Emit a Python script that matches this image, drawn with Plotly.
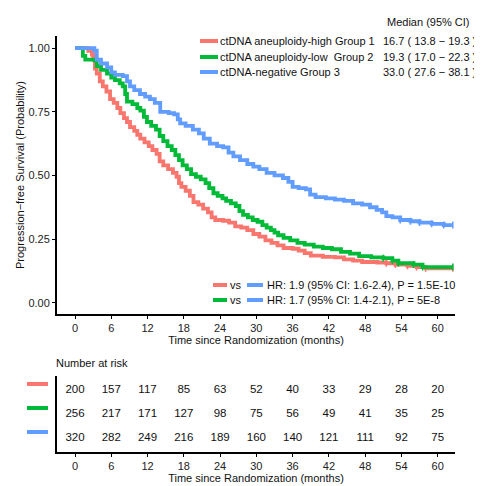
import plotly.graph_objects as go

# ---------------- data ----------------
t_high = [0, 2.2, 2.8, 3.0, 3.3, 3.6, 4.1, 4.6, 5.2, 5.8, 6.4, 7.0, 7.5, 8.1, 8.6, 9.1, 9.8, 10.3, 10.8, 11.5,
          12.2, 12.8, 13.5, 14.0, 14.6, 15.4, 16.2, 16.8, 17.2, 17.6, 18.3, 19.0, 19.6, 20.4, 21.2, 22.0, 22.6,
          23.2, 24.5, 25.5, 26.5, 27.5, 28.5, 29.5, 30.5, 31.5, 32.5, 33.5, 34.5, 36.0, 37.0, 38.0, 39.0, 41.0,
          43.0, 44.5, 46.0, 47.5, 50.0, 51.5, 53.0, 55.0, 56.5, 58.0, 62.5]
s_high = [1.0, 0.99, 0.975, 0.96, 0.92, 0.90, 0.87, 0.85, 0.83, 0.80, 0.785, 0.765, 0.745, 0.725, 0.71, 0.69, 0.675,
          0.66, 0.645, 0.63, 0.615, 0.60, 0.585, 0.555, 0.54, 0.525, 0.51, 0.495, 0.47, 0.455, 0.44, 0.42, 0.395,
          0.385, 0.37, 0.355, 0.335, 0.325, 0.322, 0.315, 0.30, 0.295, 0.285, 0.27, 0.26, 0.245, 0.235, 0.225, 0.215,
          0.212, 0.205, 0.195, 0.185, 0.18, 0.178, 0.17, 0.165, 0.16, 0.158, 0.155, 0.15, 0.145, 0.14, 0.135, 0.135]

t_low = [0, 1.3, 1.7, 3.2, 3.6, 4.3, 5.3, 6.0, 6.6, 7.4, 7.9, 8.3, 8.6, 9.5, 10.3, 10.8, 11.4, 11.9, 12.6, 13.4,
         14.0, 14.6, 15.3, 16.0, 16.6, 17.2, 17.8, 18.5, 19.2, 20.0, 20.8, 21.6, 22.2, 22.9, 23.6, 24.4, 25.0, 25.8,
         26.6, 27.2, 27.8, 28.6, 29.4, 30.2, 31.0, 31.7, 32.4, 33.0, 33.6, 34.5, 35.6, 36.8, 38.0, 39.5, 41.0, 42.5,
         44.0, 45.5, 47.0, 49.0, 51.0, 52.5, 53.5, 56.0, 57.5, 62.5]
s_low = [1.0, 0.97, 0.955, 0.952, 0.93, 0.915, 0.90, 0.885, 0.875, 0.862, 0.85, 0.82, 0.79, 0.78, 0.765, 0.755, 0.73,
         0.71, 0.695, 0.68, 0.655, 0.635, 0.615, 0.60, 0.58, 0.56, 0.54, 0.525, 0.505, 0.495, 0.485, 0.47, 0.45, 0.43,
         0.42, 0.41, 0.40, 0.39, 0.38, 0.36, 0.345, 0.335, 0.325, 0.318, 0.305, 0.295, 0.285, 0.275, 0.265, 0.255,
         0.245, 0.235, 0.228, 0.22, 0.215, 0.21, 0.20, 0.193, 0.183, 0.178, 0.175, 0.165, 0.155, 0.15, 0.14, 0.14]

t_neg = [0, 3.2, 3.6, 4.3, 5.3, 6.0, 6.6, 7.9, 8.6, 9.1, 9.8, 10.75, 11.6, 12.4, 13.2, 14.1, 15.5, 16.4, 17.0, 17.4,
         18.3, 19.5, 20.5, 21.3, 22.3, 23.5, 24.5, 25.4, 26.2, 27.3, 28.5, 29.5, 30.5, 31.7, 33.0, 34.4, 35.3, 36.0,
         37.0, 38.2, 38.9, 39.8, 41.5, 43.0, 44.5, 46.0, 47.5, 48.8, 49.9, 50.8, 51.5, 52.5, 53.8, 55.5, 57.0, 59.0,
         61.0, 62.5]
s_neg = [1.0, 0.99, 0.955, 0.94, 0.925, 0.905, 0.895, 0.89, 0.87, 0.85, 0.835, 0.82, 0.81, 0.80, 0.785, 0.75, 0.745,
         0.74, 0.72, 0.705, 0.695, 0.68, 0.665, 0.645, 0.625, 0.615, 0.61, 0.59, 0.575, 0.56, 0.545, 0.535, 0.525,
         0.51, 0.50, 0.49, 0.475, 0.455, 0.45, 0.445, 0.425, 0.415, 0.41, 0.405, 0.40, 0.39, 0.385, 0.375, 0.365,
         0.355, 0.34, 0.335, 0.325, 0.32, 0.315, 0.31, 0.305, 0.305]

group_names = ["ctDNA aneuploidy-high Group 1", "ctDNA aneuploidy-low  Group 2", "ctDNA-negative Group 3"]
group_medians = ["16.7 ( 13.8 \u2212 19.3 )", "19.3 ( 17.0 \u2212 22.3 )", "33.0 ( 27.6 \u2212 38.1 )"]
colors = ["#F8766D", "#00BA38", "#619CFF"]

risk_times = [0, 6, 12, 18, 24, 30, 36, 42, 48, 54, 60]
risk_high = [200, 157, 117, 85, 63, 52, 40, 33, 29, 28, 20]
risk_low = [256, 217, 171, 127, 98, 75, 56, 49, 41, 35, 25]
risk_neg = [320, 282, 249, 216, 189, 160, 140, 121, 111, 92, 75]

hr_texts = ["HR: 1.9 (95% CI: 1.6-2.4), P = 1.5E-10", "HR: 1.7 (95% CI: 1.4-2.1), P = 5E-8"]

y_ticks = [0.0, 0.25, 0.5, 0.75, 1.0]
y_ticklabels = ["0.00", "0.25", "0.50", "0.75", "1.00"]

# ---------------- figure ----------------
FONT = "Liberation Sans, Arial, sans-serif"
OFF = 8  # page body margin
W, H = 482 - OFF, 486 - OFF
ML, MR, MT, MB = 57 - OFF, 27, 36 - OFF, 34
PW, PH = W - ML - MR, H - MT - MB


def px_x(px):
    # page pixel -> paper x
    return (px - OFF - ML) / PW


def px_y(py):
    # page pixel -> paper y
    return (H + OFF - MB - py) / PH


fig = go.Figure()

for t, s, c in zip([t_high, t_low, t_neg], [s_high, s_low, s_neg], colors):
    fig.add_trace(go.Scatter(x=t, y=s, mode="lines", line=dict(color=c, width=3.8, shape="hv"),
                             showlegend=False, hoverinfo="skip", xaxis="x", yaxis="y"))
    fig.add_trace(go.Scatter(x=t[-6:], y=s[-6:], mode="markers",
                             marker=dict(symbol="line-ns", size=5, line=dict(color=c, width=1.5)),
                             showlegend=False, hoverinfo="skip", xaxis="x", yaxis="y"))

rows = [risk_high, risk_low, risk_neg]
row_y = [3, 2, 1]
for r, yv in zip(rows, row_y):
    fig.add_trace(go.Scatter(x=risk_times, y=[yv] * len(risk_times), mode="text",
                             text=[str(v) for v in r], textfont=dict(family=FONT, size=11.5, color="#111"),
                             showlegend=False, hoverinfo="skip", xaxis="x2", yaxis="y2"))

main_bottom = px_y(314)
risk_top = px_y(376)

axis_common = dict(showgrid=False, zeroline=False, showline=True, linecolor="black", linewidth=2,
                   ticks="outside", ticklen=3, tickcolor="black", tickwidth=1, automargin=False,
                   tickfont=dict(family=FONT, size=11, color="#222"))

xr = [(57 - 75) / 6.045, (455 - 75) / 6.045]
tfont = dict(family=FONT, size=11, color="#111")

fig.update_layout(
    width=W, height=H, margin=dict(l=ML, r=MR, t=MT, b=MB),
    paper_bgcolor="white", plot_bgcolor="white",
    xaxis=dict(domain=[0, 1], anchor="y", range=xr, tickvals=risk_times,
               title=dict(text="Time since Randomization (months)", font=tfont, standoff=2), **axis_common),
    yaxis=dict(domain=[main_bottom, 1], anchor="x", range=[-0.0444, 1.048], tickvals=y_ticks,
               ticktext=y_ticklabels,
               title=dict(text="Progression\u2212free Survival (Probability)", font=tfont, standoff=2),
               **axis_common),
    xaxis2=dict(domain=[0, 1], anchor="y2", range=xr, tickvals=risk_times,
                title=dict(text="Time since Randomization (months)", font=tfont, standoff=2), **axis_common),
    yaxis2=dict(domain=[0, risk_top], anchor="x2", range=[0.418, 3.582], showticklabels=False,
                showgrid=False, zeroline=False, showline=True, linecolor="black", linewidth=2, ticks="",
                automargin=False),
    showlegend=False,
)

shapes = []
annotations = []

leg_y = [41, 57, 72]
for name, med, c, py in zip(group_names, group_medians, colors, leg_y):
    shapes.append(dict(type="line", xref="paper", yref="paper", x0=px_x(200), x1=px_x(218),
                       y0=px_y(py), y1=px_y(py), line=dict(color=c, width=4)))
    annotations.append(dict(xref="paper", yref="paper", x=px_x(218), y=px_y(py), text=name, showarrow=False,
                            xanchor="left", yanchor="middle", font=tfont))
    annotations.append(dict(xref="paper", yref="paper", x=px_x(478), y=px_y(py), text=med, showarrow=False,
                            xanchor="right", yanchor="middle", font=tfont))
annotations.append(dict(xref="paper", yref="paper", x=px_x(385), y=px_y(22), text="Median (95% CI)",
                        showarrow=False, xanchor="left", yanchor="middle", font=tfont))

hr_y = [285, 300]
for txt, c, py in zip(hr_texts, colors[:2], hr_y):
    shapes.append(dict(type="line", xref="paper", yref="paper", x0=px_x(213), x1=px_x(227),
                       y0=px_y(py), y1=px_y(py), line=dict(color=c, width=4)))
    annotations.append(dict(xref="paper", yref="paper", x=px_x(228), y=px_y(py), text="vs", showarrow=False,
                            xanchor="left", yanchor="middle", font=tfont))
    shapes.append(dict(type="line", xref="paper", yref="paper", x0=px_x(247), x1=px_x(263),
                       y0=px_y(py), y1=px_y(py), line=dict(color=colors[2], width=4)))
    annotations.append(dict(xref="paper", yref="paper", x=px_x(265), y=px_y(py), text=txt, showarrow=False,
                            xanchor="left", yanchor="middle", font=tfont))

annotations.append(dict(xref="paper", yref="paper", x=px_x(54), y=px_y(363), text="Number at risk",
                        showarrow=False, xanchor="left", yanchor="middle", font=tfont))
for c, yv in zip(colors, row_y):
    shapes.append(dict(type="line", xref="paper", yref="y2", x0=px_x(27), x1=px_x(48),
                       y0=yv + 0.25, y1=yv + 0.25, line=dict(color=c, width=4)))

fig.update_layout(shapes=shapes, annotations=annotations)

fig.write_html("out.html")
